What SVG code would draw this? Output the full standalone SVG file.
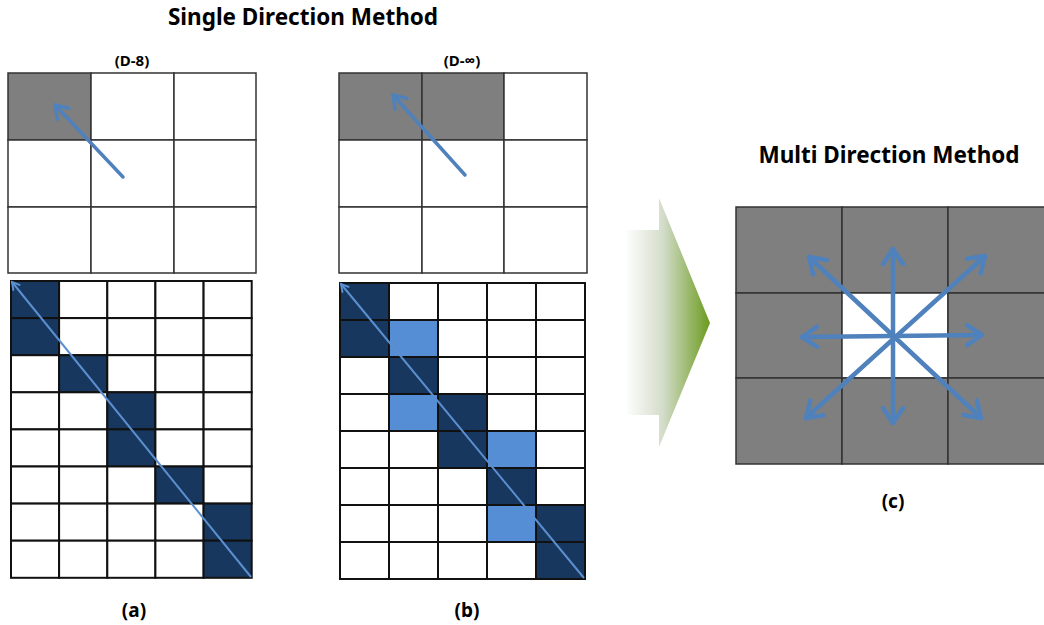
<svg xmlns="http://www.w3.org/2000/svg" width="1044" height="625" viewBox="0 0 1044 625">
<style>
.t{font-family:"Noto Sans","Open Sans","Liberation Sans",sans-serif;font-weight:bold;fill:#000;text-anchor:middle}
.tc{stroke:#333;stroke-width:1.5}
.bc{stroke:#111;stroke-width:2}
.w{fill:#fff}
.g{fill:#7f7f7f}
.d{fill:#17375e}
.l{fill:#558ed5}
.arr{stroke:#4f81bd;fill:none;stroke-linecap:round}
</style>
<defs>
<marker id="mh" markerUnits="userSpaceOnUse" markerWidth="30" markerHeight="30" viewBox="0 0 30 30" refX="26" refY="15" orient="auto-start-reverse">
<path d="M11,5 L26,15 L11,25" fill="none" stroke="#4f81bd" stroke-width="4.5" stroke-linecap="round" stroke-linejoin="round"/>
</marker>
<marker id="ms" markerUnits="userSpaceOnUse" markerWidth="22" markerHeight="22" viewBox="0 0 22 22" refX="19" refY="11" orient="auto">
<path d="M7,3 L19,11 L7,19" fill="none" stroke="#4f81bd" stroke-width="3.5" stroke-linecap="round" stroke-linejoin="round"/>
</marker>
<marker id="mb" markerUnits="userSpaceOnUse" markerWidth="12" markerHeight="12" viewBox="0 0 12 12" refX="10" refY="6" orient="auto">
<path d="M3,2 L10,6 L3,10" fill="none" stroke="#5b8fd0" stroke-width="2" stroke-linecap="round"/>
</marker>
<linearGradient id="ga" x1="625" y1="0" x2="710" y2="0" gradientUnits="userSpaceOnUse">
<stop offset="0" stop-color="#ffffff"/>
<stop offset="0.45" stop-color="#d3dcc9"/>
<stop offset="1" stop-color="#6b9b1e"/>
</linearGradient>
</defs>

<text class="t" x="303" y="25" font-size="22.5">Single Direction Method</text>
<text class="t" x="889" y="163" font-size="22.5">Multi Direction Method</text>

<g id="grid-d8">
<text class="t" x="132" y="66" font-size="15">(D-8)</text>
<g class="tc">
<rect class="g" x="8" y="73" width="83" height="67"/>
<rect class="w" x="91" y="73" width="83" height="67"/>
<rect class="w" x="174" y="73" width="82" height="67"/>
<rect class="w" x="8" y="140" width="83" height="67"/>
<rect class="w" x="91" y="140" width="83" height="67"/>
<rect class="w" x="174" y="140" width="82" height="67"/>
<rect class="w" x="8" y="207" width="83" height="66"/>
<rect class="w" x="91" y="207" width="83" height="66"/>
<rect class="w" x="174" y="207" width="82" height="66"/>
</g>
</g>

<g id="grid-dinf">
<text class="t" x="462" y="66" font-size="15">(D-∞)</text>
<g class="tc">
<rect class="g" x="339" y="73" width="83" height="67"/>
<rect class="g" x="422" y="73" width="82" height="67"/>
<rect class="w" x="504" y="73" width="83" height="67"/>
<rect class="w" x="339" y="140" width="83" height="67"/>
<rect class="w" x="422" y="140" width="82" height="67"/>
<rect class="w" x="504" y="140" width="83" height="67"/>
<rect class="w" x="339" y="207" width="83" height="66"/>
<rect class="w" x="422" y="207" width="82" height="66"/>
<rect class="w" x="504" y="207" width="83" height="66"/>
</g>
</g>

<g id="grid-a">
<g class="bc">
<rect class="d" x="11" y="281" width="48.1" height="37.1"/><rect class="w" x="59.1" y="281" width="48.2" height="37.1"/><rect class="w" x="107.3" y="281" width="48.1" height="37.1"/><rect class="w" x="155.4" y="281" width="48.2" height="37.1"/><rect class="w" x="203.6" y="281" width="48.1" height="37.1"/>
<rect class="d" x="11" y="318.1" width="48.1" height="37.1"/><rect class="w" x="59.1" y="318.1" width="48.2" height="37.1"/><rect class="w" x="107.3" y="318.1" width="48.1" height="37.1"/><rect class="w" x="155.4" y="318.1" width="48.2" height="37.1"/><rect class="w" x="203.6" y="318.1" width="48.1" height="37.1"/>
<rect class="w" x="11" y="355.2" width="48.1" height="37.1"/><rect class="d" x="59.1" y="355.2" width="48.2" height="37.1"/><rect class="w" x="107.3" y="355.2" width="48.1" height="37.1"/><rect class="w" x="155.4" y="355.2" width="48.2" height="37.1"/><rect class="w" x="203.6" y="355.2" width="48.1" height="37.1"/>
<rect class="w" x="11" y="392.3" width="48.1" height="37.1"/><rect class="w" x="59.1" y="392.3" width="48.2" height="37.1"/><rect class="d" x="107.3" y="392.3" width="48.1" height="37.1"/><rect class="w" x="155.4" y="392.3" width="48.2" height="37.1"/><rect class="w" x="203.6" y="392.3" width="48.1" height="37.1"/>
<rect class="w" x="11" y="429.4" width="48.1" height="37.1"/><rect class="w" x="59.1" y="429.4" width="48.2" height="37.1"/><rect class="d" x="107.3" y="429.4" width="48.1" height="37.1"/><rect class="w" x="155.4" y="429.4" width="48.2" height="37.1"/><rect class="w" x="203.6" y="429.4" width="48.1" height="37.1"/>
<rect class="w" x="11" y="466.5" width="48.1" height="37.1"/><rect class="w" x="59.1" y="466.5" width="48.2" height="37.1"/><rect class="w" x="107.3" y="466.5" width="48.1" height="37.1"/><rect class="d" x="155.4" y="466.5" width="48.2" height="37.1"/><rect class="w" x="203.6" y="466.5" width="48.1" height="37.1"/>
<rect class="w" x="11" y="503.6" width="48.1" height="37.1"/><rect class="w" x="59.1" y="503.6" width="48.2" height="37.1"/><rect class="w" x="107.3" y="503.6" width="48.1" height="37.1"/><rect class="w" x="155.4" y="503.6" width="48.2" height="37.1"/><rect class="d" x="203.6" y="503.6" width="48.1" height="37.1"/>
<rect class="w" x="11" y="540.7" width="48.1" height="37.1"/><rect class="w" x="59.1" y="540.7" width="48.2" height="37.1"/><rect class="w" x="107.3" y="540.7" width="48.1" height="37.1"/><rect class="w" x="155.4" y="540.7" width="48.2" height="37.1"/><rect class="d" x="203.6" y="540.7" width="48.1" height="37.1"/>
</g>
<text class="t" x="134" y="617" font-size="19">(a)</text>
</g>

<g id="grid-b">
<g class="bc">
<rect class="d" x="340" y="283" width="49" height="37"/><rect class="w" x="389" y="283" width="49" height="37"/><rect class="w" x="438" y="283" width="49" height="37"/><rect class="w" x="487" y="283" width="49" height="37"/><rect class="w" x="536" y="283" width="49" height="37"/>
<rect class="d" x="340" y="320" width="49" height="37"/><rect class="l" x="389" y="320" width="49" height="37"/><rect class="w" x="438" y="320" width="49" height="37"/><rect class="w" x="487" y="320" width="49" height="37"/><rect class="w" x="536" y="320" width="49" height="37"/>
<rect class="w" x="340" y="357" width="49" height="37"/><rect class="d" x="389" y="357" width="49" height="37"/><rect class="w" x="438" y="357" width="49" height="37"/><rect class="w" x="487" y="357" width="49" height="37"/><rect class="w" x="536" y="357" width="49" height="37"/>
<rect class="w" x="340" y="394" width="49" height="37"/><rect class="l" x="389" y="394" width="49" height="37"/><rect class="d" x="438" y="394" width="49" height="37"/><rect class="w" x="487" y="394" width="49" height="37"/><rect class="w" x="536" y="394" width="49" height="37"/>
<rect class="w" x="340" y="431" width="49" height="37"/><rect class="w" x="389" y="431" width="49" height="37"/><rect class="d" x="438" y="431" width="49" height="37"/><rect class="l" x="487" y="431" width="49" height="37"/><rect class="w" x="536" y="431" width="49" height="37"/>
<rect class="w" x="340" y="468" width="49" height="37"/><rect class="w" x="389" y="468" width="49" height="37"/><rect class="w" x="438" y="468" width="49" height="37"/><rect class="d" x="487" y="468" width="49" height="37"/><rect class="w" x="536" y="468" width="49" height="37"/>
<rect class="w" x="340" y="505" width="49" height="37"/><rect class="w" x="389" y="505" width="49" height="37"/><rect class="w" x="438" y="505" width="49" height="37"/><rect class="l" x="487" y="505" width="49" height="37"/><rect class="d" x="536" y="505" width="49" height="37"/>
<rect class="w" x="340" y="542" width="49" height="37"/><rect class="w" x="389" y="542" width="49" height="37"/><rect class="w" x="438" y="542" width="49" height="37"/><rect class="w" x="487" y="542" width="49" height="37"/><rect class="d" x="536" y="542" width="49" height="37"/>
</g>
<text class="t" x="467" y="617" font-size="19">(b)</text>
</g>

<g id="transition-arrow">
<path d="M625,230 L659,230 L659,198 L710,323 L659,447 L659,415 L625,415 Z" fill="url(#ga)"/>
</g>

<g id="grid-c">
<g class="tc">
<rect class="g" x="736" y="207" width="106" height="86"/>
<rect class="g" x="842" y="207" width="106" height="86"/>
<rect class="g" x="948" y="207" width="106" height="86"/>
<rect class="g" x="736" y="293" width="106" height="85"/>
<rect class="w" x="842" y="293" width="106" height="85"/>
<rect class="g" x="948" y="293" width="106" height="85"/>
<rect class="g" x="736" y="378" width="106" height="86"/>
<rect class="g" x="842" y="378" width="106" height="86"/>
<rect class="g" x="948" y="378" width="106" height="86"/>
</g>
<text class="t" x="893" y="508" font-size="19">(c)</text>
</g>

<g id="connectors">
<line class="arr" x1="123" y1="177" x2="55" y2="105" stroke-width="3.5" marker-end="url(#ms)"/>
<line class="arr" x1="465" y1="175" x2="393" y2="95" stroke-width="3.5" marker-end="url(#ms)"/>
<line x1="251" y1="577" x2="12" y2="282" stroke="#5b8fd0" stroke-width="2" marker-end="url(#mb)"/>
<line x1="584" y1="578" x2="341" y2="284" stroke="#5b8fd0" stroke-width="2" marker-end="url(#mb)"/>
<line class="arr" x1="802" y1="337" x2="982" y2="335" stroke-width="4.5" marker-start="url(#mh)" marker-end="url(#mh)"/>
<line class="arr" x1="893" y1="249" x2="893" y2="423" stroke-width="4.5" marker-start="url(#mh)" marker-end="url(#mh)"/>
<line class="arr" x1="809" y1="257" x2="981" y2="418" stroke-width="4.5" marker-start="url(#mh)" marker-end="url(#mh)"/>
<line class="arr" x1="985" y1="256" x2="806" y2="418" stroke-width="4.5" marker-start="url(#mh)" marker-end="url(#mh)"/>
</g>
</svg>
